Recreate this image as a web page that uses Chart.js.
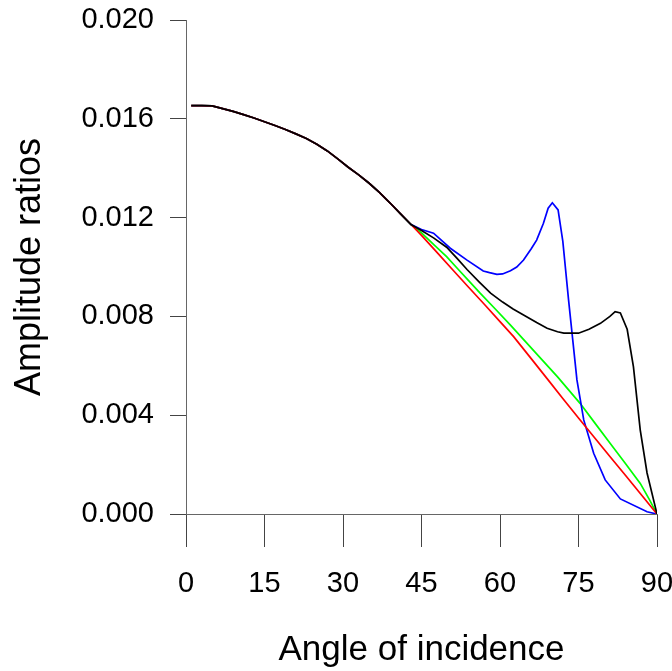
<!DOCTYPE html>
<html>
<head>
<meta charset="utf-8">
<script src="https://cdn.jsdelivr.net/npm/chart.js@4/dist/chart.umd.min.js"></script>
<style>
  html, body { margin: 0; padding: 0; background: #ffffff; }
  #wrap { width: 672px; height: 671px; }
</style>
</head>
<body>
<div id="wrap"><canvas id="c" width="672" height="671"></canvas></div>
<script>
// Shared early part of all four curves (angle in degrees, amplitude ratio)
const commonAngles = [1, 3, 5, 7, 9, 11, 13, 15, 17, 19, 21, 23, 25, 27, 29, 31, 33, 35, 37, 39, 41, 43];
const commonValues = [0.01653, 0.01653, 0.01652, 0.01641, 0.01630, 0.01617, 0.01603, 0.01588, 0.01573, 0.01557, 0.01539, 0.01520, 0.01497, 0.01470, 0.01438, 0.01404, 0.01373, 0.01339, 0.01301, 0.01259, 0.01215, 0.01172];

const redAngles = [45, 48, 51, 54, 57, 60, 62.6, 66, 69, 72, 75, 78, 81, 84, 87, 90];
const redValues = [0.01128, 0.01058, 0.00988, 0.00918, 0.00849, 0.00779, 0.00718, 0.00628, 0.00548, 0.00468, 0.00389, 0.00311, 0.00233, 0.00156, 0.00078, 0.0];

const greenAngles = [45, 47.5, 49.8, 52, 54, 56.2, 59.1, 62, 65, 68, 71, 75.3, 78, 81, 84, 86.8, 88.5, 90];
const greenValues = [0.01138, 0.01088, 0.01042, 0.00991, 0.00945, 0.00894, 0.00830, 0.00765, 0.00695, 0.00625, 0.00555, 0.00448, 0.00372, 0.00287, 0.00203, 0.00124, 0.00060, 0.0];

const blackAngles = [45, 47.3, 49.8, 51.8, 53.7, 56, 58.2, 60.5, 62.5, 64.5, 67, 69, 71, 72.2, 75, 77, 79.2, 81, 82, 83, 84.3, 85.5, 86.8, 88.1, 90];
const blackValues = [0.01148, 0.01118, 0.01080, 0.01035, 0.00990, 0.00940, 0.00894, 0.00858, 0.00830, 0.00806, 0.00775, 0.00752, 0.00738, 0.00732, 0.00732, 0.00748, 0.00772, 0.00800, 0.00819, 0.00814, 0.00748, 0.00596, 0.00340, 0.00166, 0.0];

const blueAngles = [45, 47.3, 50.5, 53.7, 56.8, 58, 59.4, 60.5, 62, 63.2, 64.5, 66, 67, 68.3, 69.2, 70, 71.1, 72, 73.1, 73.9, 74.7, 76, 77.9, 80.1, 83, 88.1, 90];
const blueValues = [0.01152, 0.01137, 0.01076, 0.01028, 0.00984, 0.00977, 0.00970, 0.00972, 0.00985, 0.01000, 0.01028, 0.01075, 0.01109, 0.01177, 0.01238, 0.01260, 0.01231, 0.01105, 0.00867, 0.00705, 0.00543, 0.00381, 0.00246, 0.00138, 0.00061, 0.00009, 0.0];

const xTicks = [0, 15, 30, 45, 60, 75, 90];
const yTicks = [0.000, 0.004, 0.008, 0.012, 0.016, 0.020];

const xTitle = 'Angle of incidence';
const yTitle = 'Amplitude ratios';

function pts(angles, values) {
  const a = commonAngles.concat(angles);
  const v = commonValues.concat(values);
  return a.map((x, i) => ({ x: x, y: v[i] }));
}

const FONT = '"Liberation Sans", Arial, sans-serif';

const ds = (label, color, angles, values) => ({
  label: label,
  data: pts(angles, values),
  borderColor: color,
  backgroundColor: color,
  borderWidth: 1.7,
  pointRadius: 0,
  tension: 0,
  fill: false
});

new Chart(document.getElementById('c'), {
  type: 'line',
  data: {
    datasets: [
      ds('black', '#000000', blackAngles, blackValues),
      ds('red', '#ff0000', redAngles, redValues),
      ds('blue', '#0000ff', blueAngles, blueValues),
      ds('green', '#00ff00', greenAngles, greenValues)
    ]
  },
  options: {
    responsive: false,
    animation: false,
    layout: { padding: 0 },
    plugins: { legend: { display: false }, tooltip: { enabled: false } },
    scales: {
      x: {
        type: 'linear',
        min: 0, max: 90,
        afterBuildTicks: (s) => { s.ticks = xTicks.map(v => ({ value: v })); },
        afterFit: (s) => { s.height = 157; s.paddingLeft = 0; s.paddingRight = 15; },
        ticks: {
          color: '#000',
          font: { family: FONT, size: 29 },
          padding: 20,
          maxRotation: 0,
          autoSkip: false,
          callback: (v) => String(v)
        },
        grid: { drawOnChartArea: false, drawTicks: true, tickLength: 33, color: '#444', lineWidth: 1 },
        border: { display: true, color: '#666', width: 1 },
        title: { display: true, text: xTitle, color: '#000', font: { family: FONT, size: 35 }, padding: { top: 0, bottom: 0 } }
      },
      y: {
        type: 'linear',
        min: 0, max: 0.02,
        afterBuildTicks: (s) => { s.ticks = yTicks.map(v => ({ value: v })); },
        afterFit: (s) => { s.width = 186; s.paddingTop = 20; s.paddingBottom = 0; },
        ticks: {
          color: '#000',
          font: { family: FONT, size: 29 },
          padding: 16,
          autoSkip: false,
          callback: (v) => Number(v).toFixed(3)
        },
        grid: { drawOnChartArea: false, drawTicks: true, tickLength: 16, color: '#444', lineWidth: 1 },
        border: { display: true, color: '#666', width: 1 },
        title: { display: true, text: yTitle, color: '#000', font: { family: FONT, size: 36 }, padding: { top: 8, bottom: 0 } }
      }
    }
  }
});
</script>
</body>
</html>
